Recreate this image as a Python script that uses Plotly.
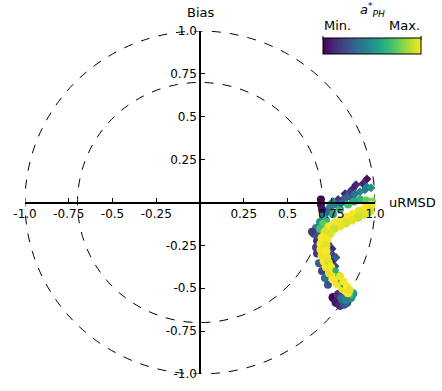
import plotly.graph_objects as go

# ---------------- data (uRMSD, Bias, normalised a*_PH) ----------------
edge_urmsd = [0.669, 0.663, 0.669, 0.680, 0.697, 0.714, 0.731]
edge_bias = [-0.223, -0.263, -0.297, -0.354, -0.400, -0.440, -0.480]
edge_aph = [0.10, 0.20, 0.15, 0.30, 0.20, 0.35, 0.25]

mid_dia_urmsd = [0.754, 0.760, 0.754, 0.771, 0.743, 0.777, 0.731, 0.760]
mid_dia_bias = [-0.269, -0.309, -0.343, -0.371, -0.291, -0.320, -0.240, -0.400]
mid_dia_aph = [0.10, 0.15, 0.05, 0.20, 0.25, 0.30, 0.12, 0.18]

teal_urmsd = [0.840, 0.869, 0.823, 0.777, 0.743, 0.720, 0.703, 0.686, 0.663, 0.651, 0.640, 0.674]
teal_bias = [0.040, 0.029, 0.017, -0.011, -0.029, -0.057, -0.080, -0.114, -0.149, -0.183, -0.171, -0.194]
teal_aph = [0.25, 0.30, 0.35, 0.40, 0.45, 0.30, 0.45, 0.50, 0.45, 0.30, 0.15, 0.25]

dark_urmsd = [0.691, 0.691, 0.697]
dark_bias = [0.017, -0.011, -0.040]
dark_aph = [0.00, 0.02, 0.05]

green_urmsd = [0.914, 0.949, 0.983, 0.880, 0.846, 0.800, 0.760, 0.720, 0.703, 0.686]
green_bias = [0.017, 0.011, 0.006, 0.006, -0.011, -0.040, -0.069, -0.103, -0.126, -0.154]
green_aph = [0.65, 0.75, 0.80, 0.60, 0.70, 0.65, 0.60, 0.65, 0.75, 0.70]

bottom_urmsd = [0.760, 0.777, 0.800, 0.823, 0.840, 0.863, 0.874, 0.851, 0.789, 0.811, 0.834]
bottom_bias = [-0.554, -0.583, -0.600, -0.594, -0.583, -0.554, -0.531, -0.537, -0.537, -0.560, -0.566]
bottom_aph = [0.00, 0.05, 0.10, 0.25, 0.30, 0.50, 0.55, 0.70, 0.15, 0.35, 0.45]

yellow1_urmsd = [1.011, 0.977, 0.943, 0.909, 0.874, 0.840, 0.806, 0.771, 0.737, 0.714, 0.697,
                 0.691, 0.691, 0.697, 0.709, 0.722, 0.740, 0.760, 0.785, 0.815, 0.845]
yellow1_bias = [-0.006, -0.017, -0.034, -0.051, -0.069, -0.086, -0.103, -0.120, -0.143, -0.171, -0.206,
                -0.240, -0.274, -0.309, -0.343, -0.377, -0.411, -0.446, -0.474, -0.503, -0.526]
yellow1_aph = [0.97, 0.98, 1.00, 0.96, 0.99, 1.00, 0.97, 0.98, 1.00, 0.95, 0.99,
               1.00, 0.98, 0.97, 1.00, 0.99, 0.96, 1.00, 0.98, 0.97, 0.99]

yellow2_urmsd = [1.006, 0.971, 0.937, 0.903, 0.869, 0.834, 0.800, 0.766, 0.743, 0.726,
                 0.720, 0.720, 0.724, 0.733, 0.747, 0.765, 0.785, 0.810, 0.835]
yellow2_bias = [-0.034, -0.051, -0.069, -0.086, -0.103, -0.120, -0.137, -0.154, -0.183, -0.217,
                -0.251, -0.286, -0.320, -0.349, -0.377, -0.406, -0.434, -0.463, -0.491]
yellow2_aph = [0.90, 0.93, 0.95, 0.92, 0.96, 0.94, 0.97, 0.93, 0.95, 0.98,
               0.96, 0.99, 0.97, 0.95, 0.98, 0.96, 0.99, 0.97, 0.95]

streak_urmsd = [0.775, 0.790, 0.805, 0.820]
streak_bias = [-0.395, -0.420, -0.450, -0.480]
streak_aph = [0.60, 0.65, 0.55, 0.60]

yellow3_urmsd = [0.800, 0.820, 0.840, 0.855]
yellow3_bias = [-0.430, -0.460, -0.490, -0.510]
yellow3_aph = [0.97, 0.99, 1.00, 0.96]

top_dia_urmsd = [0.954, 0.931, 0.891, 0.874, 0.829, 0.857, 0.789,
                 0.954, 0.977, 0.943, 0.914, 0.886, 0.760, 0.806, 0.840]
top_dia_bias = [0.137, 0.109, 0.103, 0.080, 0.051, 0.063, 0.017,
                0.091, 0.086, 0.074, 0.063, 0.051, 0.006, -0.006, 0.034]
top_dia_aph = [0.05, 0.10, 0.12, 0.08, 0.10, 0.20, 0.15,
               0.45, 0.50, 0.40, 0.45, 0.40, 0.45, 0.35, 0.30]

circle_radii = [1.0, 0.7]
tick_vals = [-1.0, -0.75, -0.5, -0.25, 0.25, 0.5, 0.75, 1.0]
tick_text = ["-1.0", "-0.75", "-0.5", "-0.25", "0.25", "0.5", "0.75", "1.0"]

# ---------------- figure ----------------
FONT = "DejaVu Sans"
fig = go.Figure()

groups = [
    (edge_urmsd, edge_bias, edge_aph, "circle", 8),
    (mid_dia_urmsd, mid_dia_bias, mid_dia_aph, "diamond", 7),
    (teal_urmsd, teal_bias, teal_aph, "circle", 8),
    (dark_urmsd, dark_bias, dark_aph, "circle", 8),
    (green_urmsd, green_bias, green_aph, "circle", 8),
    (bottom_urmsd, bottom_bias, bottom_aph, "circle", 9),
    (yellow1_urmsd, yellow1_bias, yellow1_aph, "circle", 9),
    (yellow2_urmsd, yellow2_bias, yellow2_aph, "circle", 9),
    (streak_urmsd, streak_bias, streak_aph, "circle", 6),
    (yellow3_urmsd, yellow3_bias, yellow3_aph, "circle", 8),
    (top_dia_urmsd, top_dia_bias, top_dia_aph, "diamond", 7),
]

CB_TOP, CB_BOTTOM = 40, 56
for i, (gx, gy, gc, sym, sz) in enumerate(groups):
    marker = dict(color=gc, colorscale="Viridis", cmin=0, cmax=1, symbol=sym, size=sz,
                  line=dict(width=0), opacity=1)
    if i == 0:
        marker["showscale"] = True
        marker["colorbar"] = dict(
            orientation="h", x=(323 - 25) / 350, xanchor="left", xref="paper",
            y=(381 - CB_BOTTOM) / 350, yanchor="bottom", yref="paper",
            len=98, lenmode="pixels", thickness=CB_BOTTOM - CB_TOP, thicknessmode="pixels",
            outlinewidth=1, outlinecolor="black", showticklabels=False, ticks="",
            xpad=0, ypad=0,
        )
    fig.add_trace(go.Scatter(x=gx, y=gy, mode="markers", marker=marker,
                             cliponaxis=False, showlegend=False, hoverinfo="skip"))

for r in circle_radii:
    fig.add_shape(type="circle", xref="x", yref="y", x0=-r, x1=r, y0=-r, y1=r,
                  line=dict(color="black", width=1, dash="dash"), layer="below")

# colorbar end ticks
for px in [(323 - 25) / 350, (421 - 25) / 350]:
    fig.add_shape(type="line", xref="paper", yref="paper", x0=px, x1=px,
                  y0=(381 - CB_TOP) / 350, y1=(381 - CB_TOP + 4) / 350,
                  line=dict(color="black", width=1))

axis_common = dict(range=[-1, 1], anchor="free", position=0.5, showline=True,
                   linecolor="black", linewidth=1.5, ticks="inside", ticklen=4,
                   tickwidth=1, tickcolor="black", tickvals=tick_vals, ticktext=tick_text,
                   showgrid=False, zeroline=False,
                   tickfont=dict(family=FONT, size=12, color="black"))
fig.update_layout(
    width=442, height=391,
    margin=dict(l=25, r=67, t=31, b=10),
    paper_bgcolor="white", plot_bgcolor="white",
    xaxis=dict(**axis_common, side="bottom"),
    yaxis=dict(**axis_common, side="left"),
    font=dict(family=FONT, color="black"),
)

ann = [
    dict(text="Bias", x=0, xref="x", y=(381 - 12) / 350, yref="paper", size=13),
    dict(text="uRMSD", x=(412 - 25) / 350, xref="paper", y=0.5, yref="paper", size=13),
    dict(text="<i>a</i><sup>*</sup><sub><i>PH</i></sub>", x=(372 - 25) / 350, xref="paper",
         y=(381 - 10) / 350, yref="paper", size=13),
    dict(text="Min.", x=(337 - 25) / 350, xref="paper", y=(381 - 25) / 350, yref="paper", size=13),
    dict(text="Max.", x=(405 - 25) / 350, xref="paper", y=(381 - 25) / 350, yref="paper", size=13),
]
for a in ann:
    fig.add_annotation(text=a["text"], x=a["x"], xref=a["xref"], y=a["y"], yref=a["yref"],
                       showarrow=False, xanchor="center", yanchor="middle",
                       font=dict(family=FONT, size=a["size"], color="black"))

fig.write_html("out.html")
